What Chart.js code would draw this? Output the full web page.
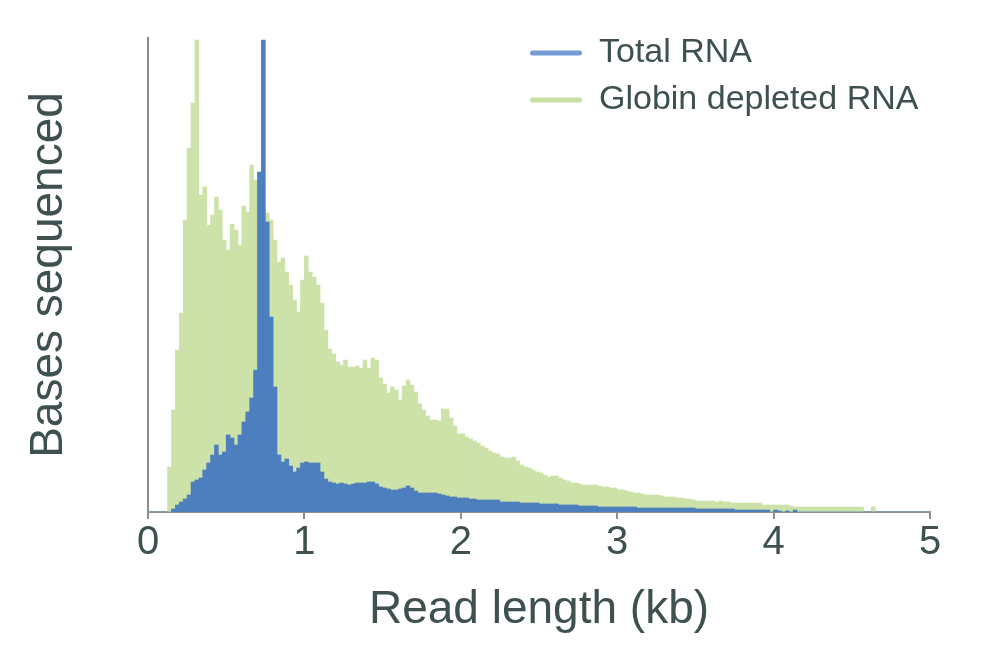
<!DOCTYPE html>
<html>
<head>
<meta charset="utf-8">
<title>Read length distribution</title>
<script src="https://cdn.jsdelivr.net/npm/chart.js@4"></script>
<style>
  html, body { margin: 0; padding: 0; background: #ffffff; }
</style>
</head>
<body>
<canvas id="readLengthChart" width="1000" height="658"></canvas>
<script>
// histogram bins of 25 bp, 0 - 5 kb (200 bins); heights in arbitrary units
const binWidthKb = 0.025;
const xTicksKb = [0, 1, 2, 3, 4, 5];

const totalRNA = [
    0, 0, 0, 0, 0, 0, 3, 7, 10, 13,
    17, 30, 32, 34, 42, 49, 57, 67, 57, 60,
    77, 74, 67, 77, 90, 100, 114, 142, 340, 472,
    290, 195, 125, 57, 50, 53, 46, 40, 44, 49,
    50, 49, 49, 49, 40, 33, 30, 29, 28, 29,
    28, 27, 28, 29, 29, 29, 30, 30, 28, 25,
    24, 23, 22, 22, 23, 24, 26, 24, 21, 19,
    19, 19, 19, 19, 18, 17, 16, 15, 15, 14,
    14, 14, 13, 13, 12, 12, 12, 12, 12, 12,
    10, 10, 10, 10, 10, 9, 9, 9, 9, 9,
    8, 8, 8, 8, 8, 7, 7, 7, 7, 7,
    6, 6, 6, 6, 6, 5, 5, 5, 5, 5,
    5, 5, 5, 5, 5, 4, 4, 4, 4, 4,
    4, 4, 4, 4, 4, 4, 4, 4, 4, 4,
    3, 3, 3, 3, 3, 3, 3, 3, 3, 3,
    2, 2, 2, 2, 2, 2, 2, 2, 2, 0,
    2, 1, 0, 1, 0, 2, 0, 0, 0, 0,
    0, 0, 0, 0, 0, 0, 0, 0, 0, 0,
    0, 0, 0, 0, 0, 0, 0, 0, 0, 0,
    0, 0, 0, 0, 0, 0, 0, 0, 0, 0
];

const globinDepletedRNA = [
    0, 0, 0, 0, 0, 45, 102, 162, 199, 292,
    364, 409, 472, 317, 325, 287, 297, 315, 302, 272,
    262, 288, 282, 267, 306, 300, 347, 332, 315, 305,
    299, 292, 272, 250, 254, 240, 227, 212, 200, 232,
    256, 240, 235, 227, 209, 182, 163, 158, 150, 147,
    152, 145, 145, 146, 144, 152, 144, 154, 152, 134,
    128, 119, 125, 122, 112, 126, 132, 127, 120, 108,
    102, 96, 92, 92, 91, 103, 103, 94, 86, 78,
    78, 75, 73, 71, 69, 66, 64, 61, 59, 58,
    55, 54, 54, 55, 51, 47, 45, 44, 42, 40,
    39, 37, 35, 36, 36, 34, 32, 31, 29, 29,
    28, 27, 27, 27, 27, 26, 25, 25, 24, 24,
    22, 22, 21, 20, 19, 19, 18, 17, 17, 17,
    17, 16, 15, 15, 15, 14, 14, 13, 13, 12,
    11, 11, 11, 11, 11, 10, 11, 10, 10, 9,
    9, 9, 9, 9, 9, 9, 9, 7, 7, 7,
    7, 7, 7, 7, 6, 5, 5, 5, 5, 5,
    5, 5, 5, 5, 5, 5, 5, 5, 5, 5,
    5, 5, 5, 0, 0, 5, 0, 0, 0, 0,
    0, 0, 0, 0, 0, 0, 0, 0, 0, 0
];

const seriesNames = ['Total RNA', 'Globin depleted RNA'];
const barColors = ['#4d7ebd', '#cde2a9'];
const legendColors = ['#729cd3', '#c9e0a5'];
const textColor = '#3e5050';
const axisColor = '#8e8e8e';
const fontFamily = '"Liberation Sans", Arial, sans-serif';

// bar centres in kb
const binCentres = totalRNA.map((_, i) => (i + 0.5) * binWidthKb);
const toPoints = values => values.map((v, i) => ({ x: binCentres[i], y: v }));

// the legend sits inside the plot, upper right
const legendPlacer = {
    id: 'legendPlacer',
    afterLayout(chart) {
        const legend = chart.legend;
        legend.left = 517;
        legend.top = 23;
    }
};

const ctx = document.getElementById('readLengthChart').getContext('2d');

const readLengthChart = new Chart(ctx, {
    type: 'bar',
    data: {
        datasets: [
            {
                label: seriesNames[0],
                data: toPoints(totalRNA),
                backgroundColor: barColors[0],
                borderWidth: 0,
                grouped: false,
                barPercentage: 1,
                categoryPercentage: 1
            },
            {
                label: seriesNames[1],
                data: toPoints(globinDepletedRNA),
                backgroundColor: barColors[1],
                borderWidth: 0,
                grouped: false,
                barPercentage: 1,
                categoryPercentage: 1
            }
        ]
    },
    options: {
        responsive: false,
        animation: false,
        layout: { padding: { left: 0, right: 70, top: 38, bottom: 0 } },
        plugins: {
            tooltip: { enabled: false },
            legend: {
                position: 'chartArea',
                align: 'start',
                labels: {
                    boxWidth: 52,
                    boxHeight: 5,
                    padding: 13,
                    color: textColor,
                    useBorderRadius: true,
                    borderRadius: 2.5,
                    font: { family: fontFamily, size: 34 },
                    generateLabels: chart => chart.data.datasets.map((ds, i) => ({
                        text: ds.label,
                        fillStyle: legendColors[i],
                        strokeStyle: legendColors[i],
                        fontColor: textColor,
                        lineWidth: 0,
                        borderRadius: 2.5,
                        hidden: false,
                        datasetIndex: i
                    }))
                }
            }
        },
        scales: {
            x: {
                type: 'linear',
                min: xTicksKb[0],
                max: xTicksKb[xTicksKb.length - 1],
                offset: false,
                afterBuildTicks: scale => {
                    scale.ticks = xTicksKb.map(v => ({ value: v }));
                },
                ticks: {
                    color: textColor,
                    padding: 0,
                    font: { family: fontFamily, size: 40 },
                    callback: v => v
                },
                grid: {
                    offset: false,
                    drawOnChartArea: false,
                    drawTicks: true,
                    tickLength: 7,
                    color: axisColor,
                    lineWidth: 2
                },
                border: { color: axisColor, width: 2 },
                title: {
                    display: true,
                    text: 'Read length (kb)',
                    color: textColor,
                    font: { family: fontFamily, size: 46 },
                    padding: { top: 0, bottom: 20 }
                },
                afterFit: scale => { scale.height = 146; }
            },
            y: {
                min: 0,
                max: 474,
                ticks: { display: false },
                grid: { display: false },
                border: { color: axisColor, width: 2 },
                title: {
                    display: true,
                    text: 'Bases sequenced',
                    color: textColor,
                    font: { family: fontFamily, size: 46 },
                    padding: { top: 22, bottom: 0 }
                },
                afterFit: scale => { scale.width = 148; }
            }
        }
    },
    plugins: [legendPlacer]
});
</script>
</body>
</html>
